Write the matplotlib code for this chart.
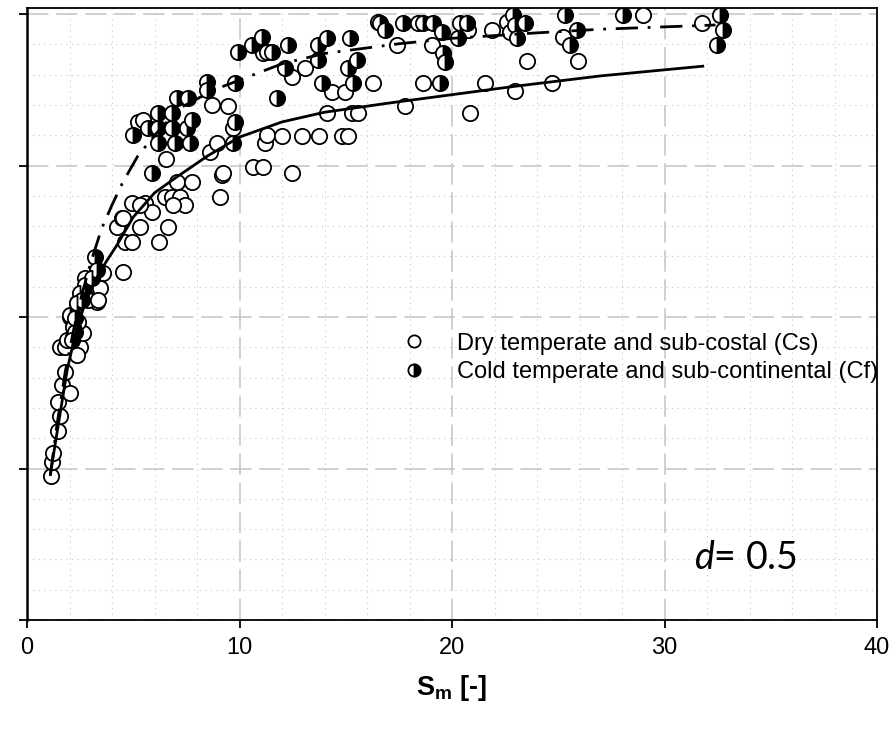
import matplotlib
matplotlib.use("Agg")
import matplotlib.pyplot as plt
from matplotlib.ticker import MultipleLocator

plt.rcParams["font.family"] = ["Liberation Sans", "DejaVu Sans"]
plt.rcParams["mathtext.fontset"] = "custom"
plt.rcParams["mathtext.rm"] = "Liberation Sans"
plt.rcParams["mathtext.bf"] = "Liberation Sans:bold"
plt.rcParams["mathtext.it"] = "Lato:italic"

# Dry temperate and sub-costal (Cs) - open circles
cs_x = [1.13, 1.18, 1.22, 1.46, 1.55, 1.46, 1.65, 2.02, 1.79, 1.55, 1.79, 2.49, 2.35,
        1.88, 2.16, 2.64, 2.02, 2.40, 2.35, 3.29, 3.34, 2.73, 2.87, 3.58, 4.52, 4.61,
        4.94, 6.21, 4.24, 4.47, 5.32, 6.64, 4.94, 5.55, 5.88, 6.49, 6.82, 7.20, 7.44,
        6.87, 7.06, 7.76, 9.08, 9.18, 6.54, 8.61, 8.94, 8.71, 5.22, 5.46, 9.46, 9.69,
        11.20, 11.29, 12.00, 12.94, 13.74, 14.82, 15.11, 10.64, 11.11, 12.47, 9.22,
        11.11, 12.47, 13.08, 14.35, 14.96, 16.28, 14.12, 15.29, 15.58, 17.79, 17.41,
        19.06, 20.75, 21.88, 18.64, 20.85, 21.55, 22.96, 24.71, 23.53, 25.93, 22.59,
        22.73, 25.22, 28.99, 31.76, 16.52, 5.32, 4.52, 3.44, 3.34]
cs_y = [0.238, 0.261, 0.276, 0.312, 0.337, 0.360, 0.388, 0.375, 0.409, 0.450, 0.450,
        0.450, 0.437, 0.462, 0.467, 0.474, 0.500, 0.492, 0.523, 0.525, 0.548, 0.564,
        0.528, 0.573, 0.574, 0.624, 0.624, 0.624, 0.649, 0.663, 0.649, 0.649, 0.688,
        0.688, 0.673, 0.698, 0.698, 0.698, 0.685, 0.685, 0.723, 0.723, 0.698, 0.734,
        0.761, 0.772, 0.787, 0.850, 0.822, 0.825, 0.848, 0.812, 0.787, 0.800, 0.799,
        0.799, 0.799, 0.799, 0.799, 0.748, 0.748, 0.738, 0.738, 0.936, 0.896, 0.911,
        0.871, 0.871, 0.886, 0.837, 0.837, 0.837, 0.848, 0.949, 0.949, 0.974, 0.974,
        0.886, 0.837, 0.886, 0.873, 0.886, 0.922, 0.922, 0.987, 0.970, 0.962, 0.998,
        0.985, 0.987, 0.685, 0.663, 0.548, 0.528]

# Cold temperate and sub-continental (Cf) - half filled circles
cf_x = [3.20, 3.29, 3.06, 2.73, 2.49, 2.59, 2.35, 2.02, 2.16, 2.26, 2.12, 2.26, 5.88,
        4.99, 5.69, 6.16, 6.82, 7.53, 6.16, 6.96, 7.67, 6.16, 6.82, 7.76, 7.06, 7.58,
        8.47, 8.47, 9.79, 9.79, 9.69, 9.93, 10.59, 11.06, 11.29, 11.53, 12.28, 12.14,
        11.76, 13.69, 13.69, 14.12, 15.20, 15.53, 15.11, 13.88, 15.34, 16.61, 16.85,
        17.69, 18.40, 18.64, 19.11, 19.53, 19.58, 19.67, 19.44, 20.38, 20.71, 20.28,
        22.87, 22.96, 23.44, 23.06, 25.32, 25.88, 25.55, 28.05, 32.61, 32.75, 32.47]
cf_y = [0.599, 0.578, 0.564, 0.553, 0.540, 0.528, 0.523, 0.503, 0.483, 0.475, 0.462,
        0.498, 0.738, 0.800, 0.812, 0.812, 0.812, 0.812, 0.787, 0.787, 0.787, 0.837,
        0.837, 0.825, 0.861, 0.861, 0.888, 0.875, 0.886, 0.822, 0.787, 0.937, 0.949,
        0.962, 0.937, 0.937, 0.949, 0.911, 0.861, 0.949, 0.924, 0.960, 0.960, 0.924,
        0.911, 0.886, 0.886, 0.985, 0.974, 0.985, 0.985, 0.985, 0.985, 0.970, 0.936,
        0.921, 0.886, 0.985, 0.985, 0.960, 0.998, 0.982, 0.985, 0.960, 0.998, 0.974,
        0.949, 0.998, 0.998, 0.974, 0.949]

# fitted curves
cs_fit_x = [1.1, 1.3, 1.6, 1.9, 2.3, 2.7, 3.2, 3.7, 4.2, 5.0, 6.0, 7.0, 8.5, 10.0,
            12.0, 14.0, 17.0, 20.0, 23.0, 27.0, 31.8]
cs_fit_y = [0.240, 0.285, 0.350, 0.415, 0.475, 0.520, 0.560, 0.590, 0.617, 0.665,
            0.705, 0.730, 0.766, 0.797, 0.822, 0.838, 0.853, 0.867, 0.881, 0.898, 0.914]
cf_fit_x = [1.1, 1.4, 1.8, 2.2, 2.6, 3.0, 3.5, 4.0, 4.5, 5.2, 6.0, 7.2, 8.8, 10.0,
            12.0, 14.0, 17.5, 20.0, 24.0, 27.0, 32.4]
cf_fit_y = [0.240, 0.320, 0.410, 0.480, 0.540, 0.590, 0.645, 0.685, 0.722, 0.765,
            0.800, 0.845, 0.875, 0.891, 0.918, 0.935, 0.951, 0.960, 0.969, 0.975, 0.982]

fig = plt.figure(figsize=(8.92, 7.29), dpi=100)
ax = fig.add_axes([0.0303, 0.1495, 0.9529, 0.8395])

ax.plot(cs_x, cs_y, "o", ls="none", ms=11, mfc="white", mec="black", mew=1.3,
        label="Dry temperate and sub-costal (Cs)", zorder=3)
ax.plot(cf_x, cf_y, "o", ls="none", ms=11, fillstyle="right", mfc="black",
        mfcalt="white", mec="black", mew=1.3,
        label="Cold temperate and sub-continental (Cf)", zorder=3)

ax.plot(cs_fit_x, cs_fit_y, "-", color="black", lw=2.0, zorder=4)
ax.plot(cf_fit_x, cf_fit_y, color="black", lw=2.0, dashes=(8, 3.5, 1, 3.5), zorder=4)

ax.set_xlim(0, 40)
ax.set_ylim(0, 1.01)
ax.xaxis.set_major_locator(MultipleLocator(10))
ax.xaxis.set_minor_locator(MultipleLocator(2))
ax.yaxis.set_major_locator(MultipleLocator(0.25))
ax.yaxis.set_minor_locator(MultipleLocator(0.05))

ax.grid(which="major", color="#c4c4c4", lw=1.1, linestyle=(0, (14, 5)))
ax.grid(which="minor", color="#c8c8c8", lw=0.8, linestyle=(0, (1, 4)))
ax.set_axisbelow(True)

for s in ax.spines.values():
    s.set_linewidth(1.3)
    s.set_color("black")
ax.spines["left"].set_linewidth(1.8)

ax.tick_params(which="major", direction="out", length=6, width=1.3)
ax.tick_params(which="minor", length=0)
ax.tick_params(axis="y", labelleft=False)
ax.tick_params(axis="x", pad=6, labelsize=17)

ax.set_xlabel(r"$\mathbf{S_m}$ [-]", fontsize=19.5, fontweight="bold", labelpad=10)

ax.text(31.4, 0.102, r"$\mathit{d}$= 0.5", fontsize=27, family="Lato",
        va="center", ha="left")

ax.legend(loc="upper left", bbox_to_anchor=(0.43, 0.485), frameon=False,
          fontsize=17, markerscale=0.8, handlelength=1.0, handletextpad=1.33,
          labelspacing=0.28, borderaxespad=0)

fig.savefig("out.png", dpi=100)
